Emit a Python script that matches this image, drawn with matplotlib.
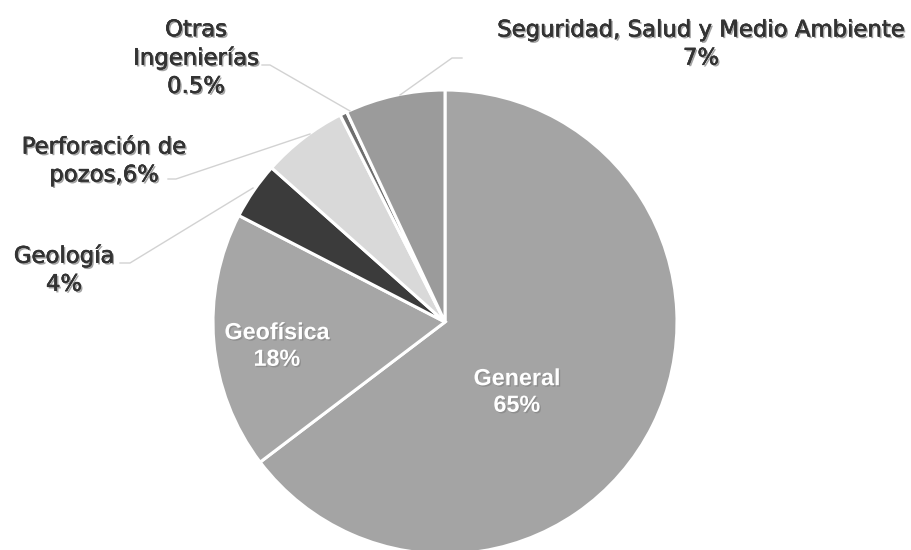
import matplotlib
matplotlib.use("Agg")
import matplotlib.pyplot as plt
import matplotlib.patheffects as pe

categories = ["General", "Geofísica", "Geología", "Perforación de pozos",
              "Otras Ingenierías", "Seguridad, Salud y Medio Ambiente"]
values = [65, 18, 4, 6, 0.5, 7]
label_texts = ["General\n65%", "Geofísica\n18%", "Geología\n4%",
               "Perforación de\npozos,6%", "Otras\nIngenierías\n0.5%",
               "Seguridad, Salud y Medio Ambiente\n7%"]
colors = ["#a4a4a4", "#a6a6a6", "#3b3b3b", "#d9d9d9", "#6e6e6e", "#9b9b9b"]

W, H = 912, 550
fig = plt.figure(figsize=(W / 100, H / 100), dpi=100)
ax = fig.add_axes([0, 0, 1, 1])

def py(y):
    return H - y

cx, cy, r = 445, py(322), 232
ax.pie(values, colors=colors, startangle=90, counterclock=False,
       center=(cx, cy), radius=r,
       wedgeprops=dict(edgecolor="white", linewidth=2.2), frame=True)
ax.set_xlim(0, W)
ax.set_ylim(0, H)
ax.set_aspect("equal")
ax.axis("off")

shadow = [pe.withSimplePatchShadow(offset=(1.2, -1.2), shadow_rgbFace="#666666", alpha=0.6),
          pe.withStroke(linewidth=0.35, foreground="#333333")]
outer = dict(fontsize=16.4, fontweight="normal", color="#333333",
             family="DejaVu Sans", ha="center", va="center",
             linespacing=1.28, path_effects=shadow)
inner = dict(fontsize=16.8, fontweight="bold", color="white",
             family="Liberation Sans", ha="center", va="center",
             linespacing=1.2,
             path_effects=[pe.withSimplePatchShadow(offset=(1, -1), shadow_rgbFace="#777777", alpha=0.5)])

# label positions (pixel centers)
ax.text(517, py(392), label_texts[0], **inner)
ax.text(277, py(346), label_texts[1], **inner)
ax.text(64, py(270), label_texts[2], **outer)
ax.text(104, py(161), label_texts[3], **outer)
ax.text(196, py(58), label_texts[4], **outer)
ax.text(701, py(44), label_texts[5], **outer)

# leader lines
lc = dict(color="#d2d2d2", linewidth=1.0)
leaders = [
    [(120, 263), (130, 263), (253, 188)],
    [(168, 179), (176, 179), (310, 134)],
    [(262, 65), (270, 65), (350, 111)],
    [(400, 95), (452, 58), (462, 58)],
]
for pts in leaders:
    xs = [p[0] for p in pts]
    ys = [py(p[1]) for p in pts]
    ax.plot(xs, ys, **lc)

fig.savefig("out.png", dpi=100, facecolor="white")
